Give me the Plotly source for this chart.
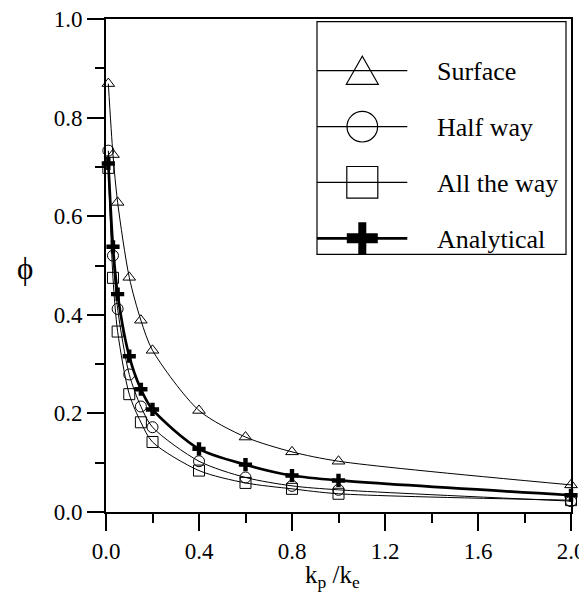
import plotly.graph_objects as go

# ---- data ----
kp_ke = [0.01, 0.03, 0.05, 0.1, 0.15, 0.2, 0.4, 0.6, 0.8, 1.0, 2.0]
surface = [0.869, 0.725, 0.628, 0.476, 0.389, 0.328, 0.206, 0.152, 0.122, 0.103, 0.055]
half_way = [0.733, 0.520, 0.412, 0.279, 0.214, 0.172, 0.103, 0.070, 0.053, 0.045, 0.022]
all_the_way = [0.698, 0.475, 0.366, 0.239, 0.182, 0.142, 0.084, 0.059, 0.047, 0.037, 0.024]
analytical = [0.707, 0.538, 0.442, 0.316, 0.249, 0.208, 0.128, 0.096, 0.074, 0.064, 0.034]

series_names = ["Surface", "Half way", "All the way", "Analytical"]
x_ticks = [0.0, 0.4, 0.8, 1.2, 1.6, 2.0]
y_ticks = [0.0, 0.2, 0.4, 0.6, 0.8, 1.0]

FONT = "Liberation Serif, Times New Roman, serif"
OFF = 8  # default page body margin
W, H = 587, 598
ML, MT = 106 - OFF, 19 - OFF
MR, MB = 16 + OFF, 86 + OFF
PW, PH = W - ML - MR, H - MT - MB


def px(xp):  # page pixel -> paper
    return (xp - OFF - ML) / PW


def py(yp):
    return (MT + PH - (yp - OFF)) / PH


fig = go.Figure()
styles = [
    (surface, "triangle-up-open", 11, 1, 1),
    (half_way, "circle-open", 11, 1, 1),
    (all_the_way, "square-open", 11, 1, 1),
]
for (vals, sym, size, lw, mlw), name in zip(styles, series_names[:3]):
    fig.add_trace(go.Scatter(
        x=kp_ke, y=vals, name=name, mode="lines+markers", cliponaxis=False,
        line=dict(color="black", width=lw, shape="spline", smoothing=0.8),
        marker=dict(symbol=sym, size=size, color="black", line=dict(width=mlw, color="black")),
        showlegend=False,
    ))
fig.add_trace(go.Scatter(
    x=kp_ke, y=analytical, name=series_names[3], mode="lines+markers", cliponaxis=False,
    line=dict(color="black", width=2.7, shape="spline", smoothing=0.8),
    marker=dict(symbol="cross", size=11, color="black", line=dict(width=0)),
    showlegend=False,
))

# ---- hand-drawn legend (large symbols as in the reference) ----
shapes = []
shapes.append(dict(type="rect", xref="paper", yref="paper",
                   x0=px(317), x1=px(566), y0=py(254.3), y1=py(21.7),
                   line=dict(color="black", width=1.2), fillcolor="rgba(0,0,0,0)"))
rows = [70.7, 126.7, 182.3, 238.3]
mx = 362.3
for i, ry in enumerate(rows):
    shapes.append(dict(type="line", xref="paper", yref="paper",
                       x0=px(317), x1=px(407.3), y0=py(ry), y1=py(ry),
                       line=dict(color="black", width=2.7 if i == 3 else 1.2)))
# triangle
shapes.append(dict(type="path", xref="paper", yref="paper", xsizemode="pixel", ysizemode="pixel",
                   xanchor=px(mx), yanchor=py(rows[0]),
                   path="M-16,-13.6 L16,-13.6 L0,14.6 Z", line=dict(color="black", width=1.2)))
# circle
shapes.append(dict(type="circle", xref="paper", yref="paper", xsizemode="pixel", ysizemode="pixel",
                   xanchor=px(mx), yanchor=py(rows[1]), x0=-15.3, x1=15.3, y0=-15.3, y1=15.3,
                   line=dict(color="black", width=1.2)))
# square
shapes.append(dict(type="rect", xref="paper", yref="paper", xsizemode="pixel", ysizemode="pixel",
                   xanchor=px(mx), yanchor=py(rows[2]), x0=-15.5, x1=15.5, y0=-15.8, y1=15.8,
                   line=dict(color="black", width=1.2)))
# thick cross
shapes.append(dict(type="path", xref="paper", yref="paper", xsizemode="pixel", ysizemode="pixel",
                   xanchor=px(mx), yanchor=py(rows[3]),
                   path="M-15.5,-5 L-4,-5 L-4,-16 L4,-16 L4,-5 L15.5,-5 L15.5,5 L4,5 L4,16 L-4,16 L-4,5 L-15.5,5 Z",
                   fillcolor="black", line=dict(color="black", width=0)))

annotations = []
for name, ry in zip(series_names, rows):
    annotations.append(dict(xref="paper", yref="paper", x=px(435), y=py(ry + 1),
                            xanchor="left", yanchor="middle", showarrow=False, text=name,
                            font=dict(family=FONT, size=26, color="black")))
annotations.append(dict(xref="paper", yref="paper", x=px(25), y=py(268), xanchor="center", yanchor="middle",
                        showarrow=False, text="\u03d5", font=dict(family=FONT, size=31, color="black")))
annotations.append(dict(xref="paper", yref="paper", x=px(332), y=py(576), xanchor="center", yanchor="middle",
                        showarrow=False, text="k<sub>p</sub> /k<sub>e</sub>",
                        font=dict(family=FONT, size=25, color="black")))

axis_common = dict(showline=True, linewidth=2, linecolor="black", mirror=True, automargin=False,
                   ticks="outside", ticklen=17, tickwidth=2, tickcolor="black",
                   showgrid=False, zeroline=False, tickformat=".1f", ticklabeloverflow="allow",
                   tickfont=dict(family=FONT, size=23, color="black"))

fig.update_layout(
    width=W, height=H,
    margin=dict(l=ML, r=MR, t=MT, b=MB, autoexpand=False),
    paper_bgcolor="white", plot_bgcolor="white",
    xaxis=dict(range=[0, 2.0], tickvals=x_ticks,
               minor=dict(dtick=0.2, ticklen=9, tickwidth=2, tickcolor="black", ticks="outside"),
               **axis_common),
    yaxis=dict(range=[0, 1.0], tickvals=y_ticks,
               minor=dict(dtick=0.1, ticklen=9, tickwidth=2, tickcolor="black", ticks="outside"),
               **axis_common),
    shapes=shapes, annotations=annotations, showlegend=False,
)

fig.write_html("out.html")
